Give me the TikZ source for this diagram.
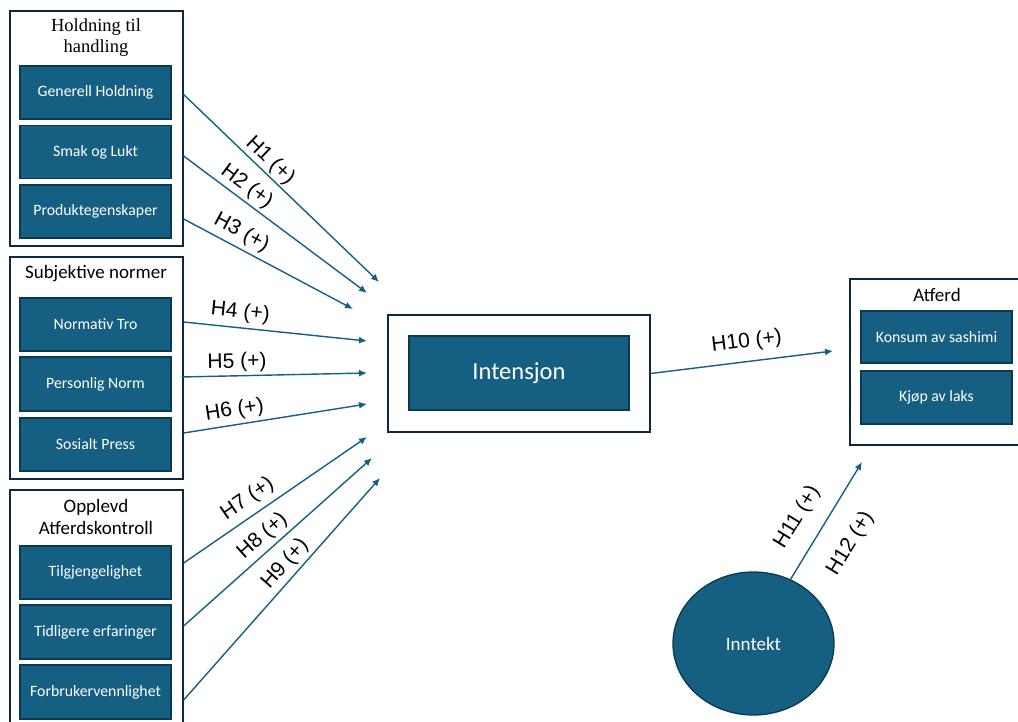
\documentclass[tikz,border=0pt]{standalone}
\usepackage{fontspec}
\setmainfont{Carlito}
\newfontfamily\arialf{Liberation Sans}
\newfontfamily\timesf{Liberation Serif}
\usetikzlibrary{arrows.meta,shapes.geometric,calc}
\definecolor{tealfill}{HTML}{156082}
\definecolor{tealedge}{HTML}{0B3A50}
\definecolor{navyedge}{HTML}{0E2841}
\definecolor{arrowcol}{HTML}{156082}
\begin{document}
\begin{tikzpicture}[x=1pt,y=-1pt,
  groupbox/.style={draw=navyedge,line width=1.3pt,fill=white,inner sep=0pt},
  itembox/.style={draw=tealedge,line width=1.3pt,fill=tealfill,text=white,
    font=\fontsize{15.8}{19}\selectfont,inner sep=0pt,minimum width=151pt},
  titletext/.style={font=\fontsize{19}{22}\selectfont,align=center,inner sep=0pt,text=black},
  arr/.style={draw=arrowcol,line width=1.4pt,-{Latex[length=8pt,width=7pt]}},
  lbl/.style={font=\arialf\fontsize{21}{24}\selectfont,sloped,inner sep=1pt,text=black}
]
\useasboundingbox (0,0) rectangle (1018,722);
\clip (0,0) rectangle (1018,722);

% group 1
\node[groupbox,minimum width=173pt,minimum height=235pt] (g1) at (96.5,128.5) {};
\node[titletext,font=\timesf\fontsize{18.5}{21}\selectfont] (t1) at (96,37.5) {Holdning til\\handling};
\node[itembox,minimum height=53pt] (a1) at (95.5,92.5) {Generell Holdning};
\node[itembox,minimum height=53pt] (a2) at (95.5,152) {Smak og Lukt};
\node[itembox,minimum height=53pt] (a3) at (95.5,211.5) {Produktegenskaper};

% group 2
\node[groupbox,minimum width=173pt,minimum height=222pt] (g2) at (96.5,368) {};
\node[titletext] (t2) at (96,274) {Subjektive normer};
\node[itembox,minimum height=53pt] (b1) at (95.5,324.5) {Normativ Tro};
\node[itembox,minimum height=54pt] (b2) at (95.5,384) {Personlig Norm};
\node[itembox,minimum height=53pt] (b3) at (95.5,444.5) {Sosialt Press};

% group 3
\node[groupbox,minimum width=173pt,minimum height=245pt] (g3) at (96.5,612.5) {};
\node[titletext] (t3) at (96,517) {Opplevd\\Atferdskontroll};
\node[itembox,minimum height=53pt] (c1) at (95.5,572.5) {Tilgjengelighet};
\node[itembox,minimum height=54pt] (c2) at (95.5,632) {Tidligere erfaringer};
\node[itembox,minimum height=54pt] (c3) at (95.5,692) {Forbrukervennlighet};

% intensjon
\node[groupbox,minimum width=262pt,minimum height=117pt] (intout) at (519,373.5) {};
\node[itembox,minimum width=220pt,minimum height=74pt,font=\fontsize{24.5}{28}\selectfont] (int) at (519,373) {Intensjon};

% atferd
\node[groupbox,minimum width=172pt,minimum height=166pt] (atf) at (936,362) {};
\node[titletext] (t4) at (937,295) {Atferd};
\node[itembox,minimum height=52pt] (d1) at (936.5,337) {Konsum av sashimi};
\node[itembox,minimum height=53pt] (d2) at (936.5,397.5) {Kjøp av laks};

% inntekt
\node[ellipse,draw=tealedge,line width=1.3pt,fill=tealfill,text=white,
  minimum width=161pt,minimum height=143pt,inner sep=0pt,
  font=\fontsize{19}{22}\selectfont] (inn) at (753.5,643.5) {Inntekt};

% arrow end points
\coordinate (e1) at (379,282);
\coordinate (e2) at (367,293);
\coordinate (e3) at (353,309);
\coordinate (e4) at (367,341);
\coordinate (e5) at (367,373);
\coordinate (e6) at (367,404);
\coordinate (e7) at (367,437);
\coordinate (e8) at (372,458);
\coordinate (e9) at (380,478);
\coordinate (e10) at (833,351);
\coordinate (e11) at (862,462);

\draw[arr] ($(a1.east -| g1.east)+(0,2)$) -- node[lbl,pos=0.40,above=0.5pt] {H1 (+)} (e1);
\draw[arr] ($(a2.east -| g1.east)+(0,4)$) -- node[lbl,pos=0.30,above=2pt] {H2 (+)} (e2);
\draw[arr] ($(a3.east -| g1.east)+(0,7.5)$) -- node[lbl,pos=0.30,above=3.5pt] {H3 (+)} (e3);
\draw[arr] ($(b1.east -| g2.east)+(0,-2.5)$) -- node[lbl,pos=0.30,above=4pt] {H4 (+)} (e4);
\draw[arr] ($(b2.east -| g2.east)+(-2,-7)$) -- node[lbl,pos=0.30,above=2pt] {H5 (+)} (e5);
\draw[arr] ($(b3.east -| g2.east)+(0,-11.5)$) -- node[lbl,pos=0.29,above=3pt] {H6 (+)} (e6);
\draw[arr] ($(c1.east -| g3.east)+(0,-9.5)$) -- node[lbl,pos=0.40,above=5pt] {H7 (+)} (e7);
\draw[arr] ($(c2.east -| g3.east)+(0,-6)$) -- node[lbl,pos=0.47,above=3pt] {H8 (+)} (e8);
\draw[arr] ($(c3.east -| g3.east)+(0,8)$) -- node[lbl,pos=0.57,above=2.5pt] {H9 (+)} (e9);
\draw[arr] (intout.east) -- node[lbl,pos=0.54,above=8pt] {H10 (+)} (e10);
\draw[arr] (inn.60) -- node[lbl,pos=0.41,above=15pt] {H11 (+)}
                       node[lbl,pos=0.45,below=21pt] {H12 (+)} (e11);
\end{tikzpicture}
\end{document}
